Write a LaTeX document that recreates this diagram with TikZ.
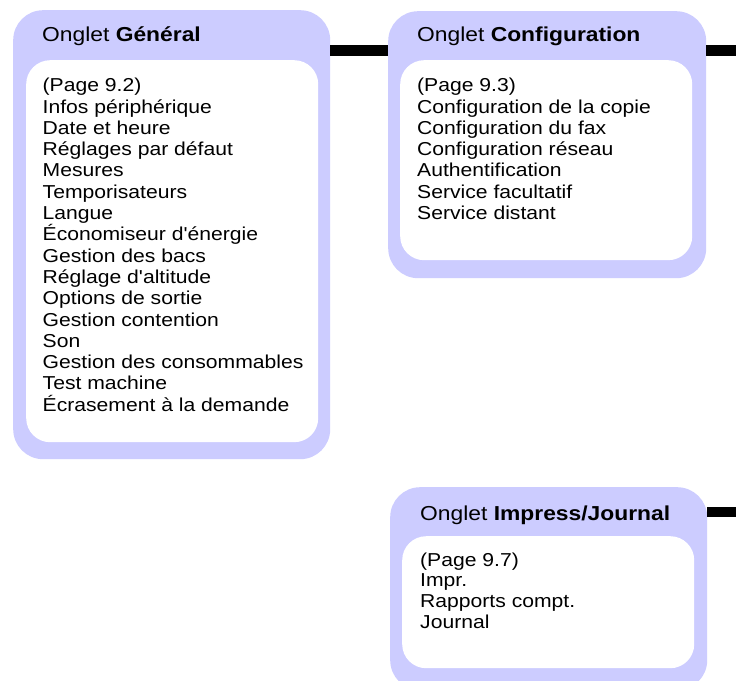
\documentclass[tikz,border=0pt]{standalone}
\usepackage{fontspec}
\setmainfont{Liberation Sans}[FakeStretch=1.13, Ligatures=TeXOff]
\definecolor{lav}{RGB}{204,204,255}
\begin{document}
\begin{tikzpicture}[x=1pt,y=-1pt,
  outerbox/.style={fill=lav, rounded corners=30pt, inner sep=0pt, anchor=north west},
  innerbox/.style={fill=white, rounded corners=24pt, inner sep=0pt, anchor=north west},
  head/.style={font=\fontsize{20.2}{24}\selectfont, anchor=base west, inner sep=0pt},
  item/.style={font=\fontsize{18.7}{21.3}\selectfont, anchor=base west, inner sep=0pt},
  bar/.style={line width=10.5pt, black}]
\useasboundingbox (0,0) rectangle (736,680);
\clip (0,0) rectangle (736,680);
\fill[white] (0,0) rectangle (736,680);

% Onglet General
\node[outerbox, minimum width=317pt, minimum height=449pt] (gen) at (13,10) {};
\node[innerbox, minimum width=292pt, minimum height=382pt] (genin) at (26,60) {};
\node[head] (genh) at (42,41.7) {Onglet \textbf{Général}};
\foreach \t [count=\i] in {(Page 9.2), Infos périphérique, Date et heure, Réglages par défaut, Mesures, Temporisateurs, Langue, Économiseur d'énergie, Gestion des bacs, Réglage d'altitude, Options de sortie, Gestion contention, Son, Gestion des consommables, Test machine, Écrasement à la demande}
  \node[item] (gen\i) at (42.5,{91.7+21.3*(\i-1)}) {\t};

% Onglet Configuration
\node[outerbox, minimum width=318pt, minimum height=267pt] (conf) at (388,11) {};
\node[innerbox, minimum width=292pt, minimum height=200pt] (confin) at (400,60) {};
\node[head] (confh) at (417,41.7) {Onglet \textbf{Configuration}};
\foreach \t [count=\i] in {(Page 9.3), Configuration de la copie, Configuration du fax, Configuration réseau, Authentification, Service facultatif, Service distant}
  \node[item] (conf\i) at (417,{91.7+21.3*(\i-1)}) {\t};

% Onglet Impress/Journal
\node[outerbox, minimum width=317pt, minimum height=203pt] (jour) at (390,487) {};
\node[innerbox, minimum width=292pt, minimum height=132pt] (jourin) at (402,536) {};
\node[head] (jourh) at (420,520) {Onglet \textbf{Impress/Journal}};
\foreach \t [count=\i] in {(Page 9.7), Impr., Rapports compt., Journal}
  \node[item] (jour\i) at (420,{566+20.8*(\i-1)}) {\t};

% connectors
\coordinate (cend) at (736,50.5);
\coordinate (jend) at (736,512);
\draw[bar] (gen.north east |- cend) -- (conf.north west |- cend);
\draw[bar] (conf.north east |- cend) -- (cend);
\draw[bar] (jour.north east |- jend) -- (jend);
\end{tikzpicture}
\end{document}
